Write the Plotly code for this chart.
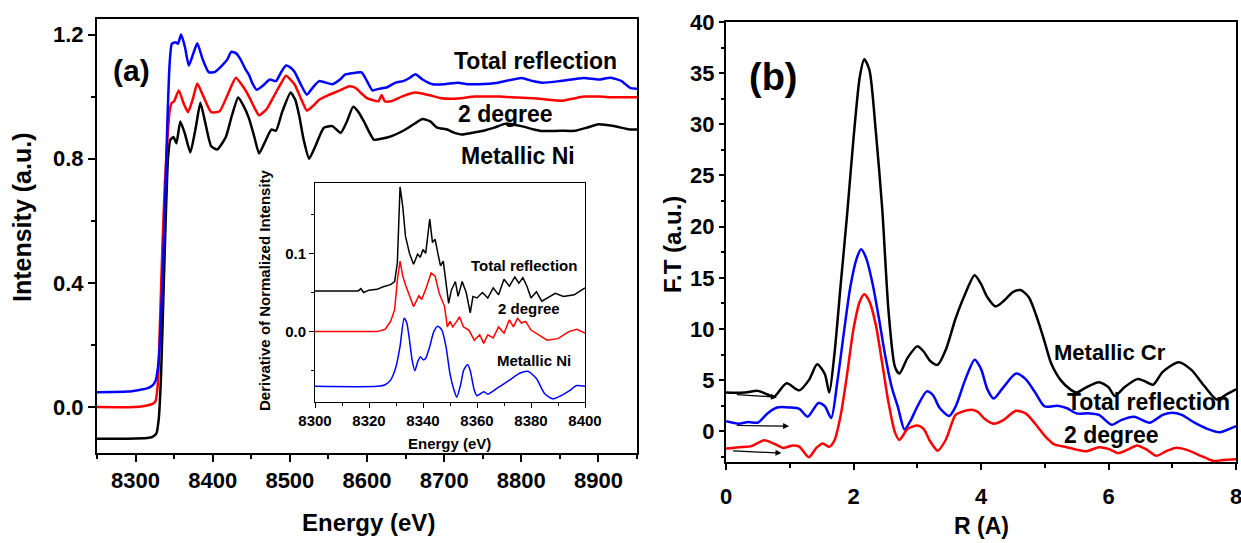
import plotly.graph_objects as go

# ---------------- Panel (a) main XANES ----------------
E_metal = [8250, 8290, 8315, 8322, 8327, 8330, 8333, 8336, 8339, 8342, 8345, 8349, 8353, 8358, 8364, 8371, 8378, 8384,
           8390, 8398, 8406, 8417, 8425, 8433, 8440, 8447, 8454, 8460, 8467, 8476, 8482, 8490, 8501, 8507, 8512, 8518,
           8525, 8533, 8544, 8555, 8566, 8574, 8582, 8589, 8596, 8609, 8620, 8631, 8647, 8660, 8672, 8682, 8691, 8704,
           8712, 8723, 8740, 8751, 8765, 8780, 8800, 8815, 8827, 8850, 8870, 8885, 8900, 8920, 8941, 8950]
I_metal = [-0.102, -0.102, -0.100, -0.096, -0.085, -0.04, 0.10, 0.35, 0.60, 0.80, 0.86, 0.87, 0.85, 0.92, 0.88, 0.82,
           0.90, 0.98, 0.92, 0.84, 0.83, 0.87, 0.94, 0.997, 0.97, 0.93, 0.87, 0.817, 0.85, 0.894, 0.89, 0.95, 1.013,
           0.99, 0.94, 0.86, 0.80, 0.84, 0.90, 0.905, 0.883, 0.92, 0.967, 0.95, 0.92, 0.861, 0.865, 0.872, 0.89, 0.91,
           0.928, 0.92, 0.90, 0.894, 0.885, 0.878, 0.885, 0.89, 0.90, 0.913, 0.905, 0.895, 0.889, 0.89, 0.89, 0.90,
           0.911, 0.905, 0.894, 0.894]

E_2deg = [8250, 8300, 8315, 8322, 8326, 8329, 8332, 8335, 8338, 8341, 8344, 8347, 8350, 8356, 8362, 8368, 8374, 8380,
          8388, 8398, 8409, 8420, 8430, 8440, 8447, 8455, 8460, 8470, 8479, 8488, 8495, 8506, 8515, 8522, 8530, 8538,
          8550, 8565, 8577, 8585, 8593, 8600, 8607, 8615, 8619, 8623, 8631, 8645, 8663, 8680, 8696, 8718, 8740, 8772,
          8795, 8816, 8835, 8854, 8870, 8881, 8900, 8920, 8941, 8950]
I_2deg = [0.0, 0.0, 0.005, 0.01, 0.02, 0.08, 0.30, 0.53, 0.72, 0.85, 0.95, 0.98, 0.985, 1.02, 0.98, 0.95, 0.99, 1.042,
          1.00, 0.95, 0.953, 1.01, 1.061, 1.03, 1.00, 0.96, 0.94, 0.96, 1.00, 1.04, 1.067, 1.04, 0.99, 0.955, 0.97,
          0.99, 1.005, 1.02, 1.033, 1.028, 1.01, 0.995, 0.989, 0.985, 1.005, 0.985, 0.985, 1.0, 1.013, 1.005, 0.995,
          0.994, 1.0, 1.0, 0.997, 0.995, 0.99, 0.987, 0.995, 1.0, 1.0, 0.998, 0.998, 0.998]

E_total = [8250, 8290, 8315, 8322, 8326, 8330, 8334, 8338, 8341, 8344, 8347, 8352, 8355, 8359, 8364, 8369, 8375, 8380,
           8387, 8395, 8403, 8412, 8419, 8424, 8430, 8436, 8442, 8447, 8452, 8457, 8465, 8474, 8482, 8489, 8495, 8500,
           8506, 8514, 8522, 8530, 8538, 8555, 8565, 8571, 8580, 8593, 8600, 8607, 8615, 8626, 8637, 8647, 8655, 8663,
           8672, 8685, 8700, 8718, 8730, 8745, 8770, 8800, 8815, 8827, 8850, 8881, 8900, 8916, 8930, 8941, 8950]
I_total = [0.048, 0.05, 0.06, 0.07, 0.085, 0.15, 0.35, 0.64, 0.90, 1.10, 1.17, 1.175, 1.17, 1.2, 1.16, 1.10, 1.14,
           1.172, 1.12, 1.078, 1.08, 1.10, 1.12, 1.144, 1.14, 1.12, 1.09, 1.07, 1.04, 1.022, 1.035, 1.055, 1.05, 1.08,
           1.10, 1.095, 1.08, 1.04, 1.006, 1.03, 1.05, 1.04, 1.055, 1.07, 1.075, 1.078, 1.05, 1.02, 1.025, 1.03, 1.045,
           1.05, 1.06, 1.072, 1.055, 1.04, 1.04, 1.045, 1.04, 1.04, 1.045, 1.06, 1.05, 1.045, 1.05, 1.06, 1.055, 1.061,
           1.05, 1.028, 1.025]

# ---------------- Inset: derivative ----------------
dE_total = [8300, 8310, 8316, 8317, 8318, 8320, 8323, 8325, 8328, 8329.5, 8330.5, 8331.5, 8332.5, 8333.5, 8335, 8336.5,
            8338, 8339, 8340, 8341, 8342.5, 8343.5, 8344.5, 8345.5, 8346.5, 8347.5, 8348.5, 8349.5, 8350.5, 8352,
            8353, 8354.5, 8356, 8357.5, 8358.5, 8360, 8362, 8364, 8366, 8368, 8370, 8372, 8374, 8375.5, 8377, 8378.5,
            8380, 8382, 8384, 8386, 8389, 8392, 8396, 8400]
dI_total = [0.052, 0.052, 0.052, 0.055, 0.050, 0.053, 0.054, 0.057, 0.060, 0.064, 0.088, 0.185, 0.160, 0.122, 0.100,
            0.086, 0.099, 0.095, 0.105, 0.100, 0.144, 0.114, 0.118, 0.100, 0.084, 0.090, 0.066, 0.036, 0.053, 0.064,
            0.045, 0.064, 0.050, 0.024, 0.045, 0.043, 0.050, 0.043, 0.056, 0.047, 0.067, 0.058, 0.070, 0.062, 0.069,
            0.058, 0.043, 0.051, 0.039, 0.043, 0.049, 0.045, 0.047, 0.056]

dE_2deg = [8300, 8310, 8323, 8326, 8328, 8329.5, 8330.5, 8331.5, 8332.5, 8333.5, 8335, 8336.5, 8338.5, 8339.5, 8341,
           8343, 8344.5, 8346, 8348, 8349, 8350, 8351, 8352.5, 8353.5, 8355, 8357, 8359, 8361, 8362.5, 8364, 8366,
           8368, 8370, 8372, 8373.5, 8375, 8376.5, 8378, 8380, 8382, 8386, 8390, 8394, 8397, 8400]
dI_2deg = [0.0, 0.0, 0.0, 0.003, 0.013, 0.028, 0.066, 0.090, 0.071, 0.060, 0.047, 0.032, 0.046, 0.041, 0.054, 0.075,
           0.071, 0.049, 0.032, 0.006, 0.013, 0.006, 0.013, 0.019, 0.006, 0.002, -0.011, -0.004, -0.015, -0.004,
           -0.008, 0.006, -0.002, 0.015, 0.006, 0.017, 0.011, 0.013, 0.002, -0.002, -0.011, -0.009, 0.0, 0.003, -0.002]

dE_metal = [8300, 8323, 8326, 8328, 8330, 8331.5, 8333, 8334, 8335, 8336, 8337, 8338, 8339, 8340, 8341, 8342.5, 8344,
            8345.5, 8347, 8348.5, 8350, 8351.5, 8352.5, 8354, 8355, 8356.5, 8357.5, 8359, 8360, 8361, 8362.5, 8364,
            8365.5, 8368, 8372, 8376, 8379, 8382, 8385, 8388, 8391, 8394, 8397, 8400]
dI_metal = [-0.070, -0.070, -0.068, -0.062, -0.045, -0.019, 0.017, 0.011, -0.011, -0.037, -0.050, -0.039, -0.032,
            -0.036, -0.034, -0.019, 0.0, 0.007, 0.002, -0.019, -0.054, -0.075, -0.084, -0.067, -0.050, -0.042, -0.050,
            -0.075, -0.082, -0.080, -0.077, -0.080, -0.077, -0.071, -0.062, -0.053, -0.051, -0.060, -0.079, -0.086,
            -0.082, -0.076, -0.069, -0.070]

# ---------------- Panel (b) Fourier transform ----------------
R_cr = [0.0, 0.3, 0.5, 0.65, 0.75, 0.95, 1.15, 1.3, 1.43, 1.55, 1.62, 1.7, 1.8, 1.9, 2.0, 2.1, 2.17, 2.25, 2.35, 2.45,
        2.55, 2.65, 2.72, 2.85, 3.0, 3.1, 3.2, 3.32, 3.45, 3.6, 3.75, 3.9, 4.0, 4.1, 4.23, 4.35, 4.5, 4.62, 4.75, 4.9,
        5.0, 5.1, 5.25, 5.4, 5.5, 5.65, 5.85, 6.0, 6.1, 6.25, 6.45, 6.55, 6.7, 6.85, 7.1, 7.3, 7.5, 7.7, 7.85, 8.0]
FT_cr = [3.78, 3.8, 3.95, 3.6, 3.35, 4.7, 4.0, 5.0, 6.55, 5.6, 3.78, 7.5, 14.4, 21.2, 28.6, 34.7, 36.35, 35.3, 29.3,
         21.8, 11.7, 6.3, 5.64, 7.2, 8.3, 7.8, 6.9, 6.5, 8.0, 11.0, 13.4, 15.25, 14.4, 13.1, 12.2, 12.7, 13.6, 13.8,
         13.1, 10.7, 8.7, 6.65, 5.0, 4.1, 3.8, 4.3, 4.8, 4.3, 3.45, 4.3, 5.1, 4.95, 4.55, 5.8, 6.75, 6.0, 4.45, 3.1,
         3.6, 4.1]

R_total = [0.0, 0.2, 0.35, 0.5, 0.65, 0.8, 1.0, 1.15, 1.28, 1.45, 1.55, 1.65, 1.75, 1.85, 1.95, 2.05, 2.12, 2.2, 2.3,
           2.4, 2.5, 2.6, 2.7, 2.8, 2.9, 3.0, 3.15, 3.25, 3.35, 3.5, 3.6, 3.75, 3.9, 4.0, 4.1, 4.2, 4.35, 4.55, 4.7,
           4.85, 5.0, 5.2, 5.35, 5.5, 5.7, 5.85, 6.05, 6.2, 6.4, 6.65, 6.85, 7.0, 7.15, 7.35, 7.55, 7.75, 7.9, 8.0]
FT_total = [0.98, 0.74, 0.9, 0.85, 1.75, 2.33, 2.33, 2.2, 1.42, 2.77, 2.45, 1.3, 5.0, 9.7, 14.1, 16.9, 17.8, 16.9, 14.4,
            11.0, 7.3, 4.3, 2.3, 0.17, 1.1, 2.4, 3.9, 3.5, 2.3, 1.5, 2.4, 5.0, 7.0, 6.1, 4.1, 3.2, 4.3, 5.64, 5.1, 3.8,
            2.43, 2.5, 2.25, 1.75, 1.75, 1.6, 0.64, 1.1, 1.42, 0.84, 1.6, 1.82, 1.6, 0.84, 0.24, -0.1, 0.24, 0.5]

R_2deg = [0.0, 0.2, 0.4, 0.6, 0.75, 0.9, 1.05, 1.15, 1.3, 1.42, 1.52, 1.62, 1.7, 1.8, 1.9, 2.0, 2.1, 2.17, 2.25, 2.35,
          2.45, 2.55, 2.65, 2.72, 2.85, 3.0, 3.1, 3.2, 3.32, 3.45, 3.6, 3.7, 3.85, 3.95, 4.05, 4.2, 4.35, 4.55, 4.7,
          4.85, 5.0, 5.15, 5.35, 5.5, 5.65, 5.85, 6.0, 6.15, 6.3, 6.45, 6.6, 6.75, 6.9, 7.05, 7.25, 7.45, 7.65, 7.8,
          8.0]
FT_2deg = [-1.69, -1.55, -1.45, -0.88, -1.2, -1.62, -1.38, -1.5, -2.53, -1.6, -1.18, -1.52, -0.9, 1.6, 5.6, 10.0,
           12.7, 13.4, 12.7, 10.4, 6.65, 2.77, -0.1, -0.84, 0.24, 0.57, 0.24, -0.95, -1.89, -0.8, 1.6, 1.9, 2.1, 1.9,
           1.25, 0.74, 1.1, 2.0, 1.75, 0.74, -0.44, -1.28, -1.55, -1.79, -1.96, -1.55, -1.72, -2.13, -1.79, -1.38,
           -1.79, -2.4, -1.96, -1.62, -1.86, -2.4, -2.9, -2.8, -2.73]

# arrows in panel (b): tail -> head
arrow_tail_x = [0.145, 0.145, 0.087]
arrow_tail_y = [3.6, 0.57, -1.9]
arrow_head_x = [0.80, 0.99, 0.87]
arrow_head_y = [3.34, 0.5, -2.13]

BLUE = "#0000ff"
RED = "#ff0000"
BLACK = "#000000"
FONT = "Liberation Sans, Arial, sans-serif"

W, H = 1241, 543


def px(x):
    return x / W


def py(y):
    return 1 - y / H


fig = go.Figure()

# main (a)
fig.add_trace(go.Scatter(x=E_metal, y=I_metal, mode="lines", line=dict(color=BLACK, width=2.5, shape="spline", smoothing=0.5),
                         xaxis="x", yaxis="y", name="Metallic Ni"))
fig.add_trace(go.Scatter(x=E_2deg, y=I_2deg, mode="lines", line=dict(color=RED, width=2.5, shape="spline", smoothing=0.5),
                         xaxis="x", yaxis="y", name="2 degree"))
fig.add_trace(go.Scatter(x=E_total, y=I_total, mode="lines", line=dict(color=BLUE, width=2.5, shape="spline", smoothing=0.5),
                         xaxis="x", yaxis="y", name="Total reflection"))

# inset
fig.add_trace(go.Scatter(x=dE_total, y=dI_total, mode="lines", line=dict(color=BLACK, width=1.5),
                         xaxis="x3", yaxis="y3", name="Total reflection (deriv.)"))
fig.add_trace(go.Scatter(x=dE_2deg, y=dI_2deg, mode="lines", line=dict(color=RED, width=1.5),
                         xaxis="x3", yaxis="y3", name="2 degree (deriv.)"))
fig.add_trace(go.Scatter(x=dE_metal, y=dI_metal, mode="lines", line=dict(color=BLUE, width=1.5, shape="spline", smoothing=0.6),
                         xaxis="x3", yaxis="y3", name="Metallic Ni (deriv.)"))

# panel (b)
fig.add_trace(go.Scatter(x=R_cr, y=FT_cr, mode="lines", line=dict(color=BLACK, width=2.5, shape="spline", smoothing=0.7),
                         xaxis="x2", yaxis="y2", name="Metallic Cr"))
fig.add_trace(go.Scatter(x=R_total, y=FT_total, mode="lines", line=dict(color=BLUE, width=2.5, shape="spline", smoothing=0.7),
                         xaxis="x2", yaxis="y2", name="Total reflection"))
fig.add_trace(go.Scatter(x=R_2deg, y=FT_2deg, mode="lines", line=dict(color=RED, width=2.5, shape="spline", smoothing=0.7),
                         xaxis="x2", yaxis="y2", name="2 degree"))


def axis_style(size, lw=2, tlen=7, **kw):
    d = dict(showline=True, linecolor="black", linewidth=lw, mirror=True, showgrid=False, zeroline=False,
             automargin=False, ticklabeloverflow="allow",
             ticks="outside", ticklen=tlen, tickwidth=lw, tickcolor="black",
             tickfont=dict(family=FONT, size=size, color="black", weight="bold"))
    d.update(kw)
    return d


fig.update_layout(
    width=W, height=H, autosize=False,
    margin=dict(l=0, r=0, t=0, b=0, autoexpand=False),
    paper_bgcolor="white", plot_bgcolor="white",
    showlegend=False,
    xaxis=axis_style(22, domain=[px(97), px(637)], anchor="y", range=[8250, 8950], tick0=8300, dtick=100,
                     minor=dict(dtick=50, ticklen=4, tickwidth=2, ticks="outside", tickcolor="black")),
    yaxis=axis_style(22, domain=[py(453), py(19)], anchor="x", range=[-0.148, 1.25], tick0=0, dtick=0.4,
                     tickformat=".1f",
                     minor=dict(dtick=0.2, tick0=0, ticklen=4, tickwidth=2, ticks="outside", tickcolor="black")),
    xaxis2=axis_style(22, domain=[px(726), px(1236)], anchor="y2", range=[0, 8], tick0=0, dtick=2, ticklen=6,
                      ticklabelstandoff=8,
                      minor=dict(dtick=1, ticklen=4, tickwidth=2, ticks="outside", tickcolor="black")),
    yaxis2=axis_style(22, domain=[py(462), py(22)], anchor="x2", range=[-3, 40], tick0=0, dtick=5, ticklen=5,
                      minor=dict(dtick=2.5, tick0=0, ticklen=3, tickwidth=2, ticks="outside", tickcolor="black")),
    xaxis3=axis_style(15, lw=1, tlen=5, domain=[px(315), px(585)], anchor="y3", range=[8300, 8400], tick0=8300,
                      dtick=20, minor=dict(dtick=10, ticklen=3, tickwidth=1, ticks="outside", tickcolor="black")),
    yaxis3=axis_style(15, lw=1, tlen=5, domain=[py(402), py(183)], anchor="x3", range=[-0.09, 0.19], tick0=0,
                      dtick=0.1, tickformat=".1f",
                      minor=dict(dtick=0.05, tick0=0, ticklen=3, tickwidth=1, ticks="outside", tickcolor="black")),
)


def label(text, x, y, size, xref="paper", yref="paper", angle=0):
    return dict(text=text, x=x, y=y, xref=xref, yref=yref, showarrow=False, textangle=angle,
                xanchor="center", yanchor="middle",
                font=dict(family=FONT, size=size, color="black", weight="bold"))


ann = [
    # axis titles
    label("Intensity (a.u.)", px(22), py(218), 25, angle=-90),
    label("Energy (eV)", px(368), py(522), 24),
    label("F.T (a.u.)", px(672), py(245), 24, angle=-90),
    label("R (A)", px(981), py(526), 23),
    label("Derivative of Normalized Intensity", px(264), py(290), 15, angle=-90),
    label("Energy (eV)", px(449), py(443), 15),
    # panel labels
    label("(a)", 8295, 1.083, 30, "x", "y"),
    label("(b)", 0.74, 34.6, 38, "x2", "y2"),
    # series labels (a)
    label("Total reflection", 8819, 1.116, 23, "x", "y"),
    label("2 degree", 8780, 0.945, 23, "x", "y"),
    label("Metallic Ni", 8796, 0.81, 23, "x", "y"),
    # inset labels
    label("Total reflection", 8377.4, 0.085, 15, "x3", "y3"),
    label("2 degree", 8379.3, 0.0296, 15, "x3", "y3"),
    label("Metallic Ni", 8381, -0.0373, 15, "x3", "y3"),
    # series labels (b)
    label("Metallic Cr", 6.02, 7.7, 22, "x2", "y2"),
    label("Total reflection", 6.62, 2.83, 23, "x2", "y2"),
    label("2 degree", 6.04, -0.39, 23, "x2", "y2"),
]
for tx, ty, hx, hy in zip(arrow_tail_x, arrow_tail_y, arrow_head_x, arrow_head_y):
    ann.append(dict(x=hx, y=hy, ax=tx, ay=ty, xref="x2", yref="y2", axref="x2", ayref="y2",
                    showarrow=True, arrowhead=2, arrowsize=1, arrowwidth=1.2, arrowcolor="black", text=""))
fig.update_layout(annotations=ann)

fig.write_html("out.html", config={"displayModeBar": False},
               post_script="document.body.style.margin='0';document.body.style.padding='0';"
                           "document.body.style.overflow='hidden';")
